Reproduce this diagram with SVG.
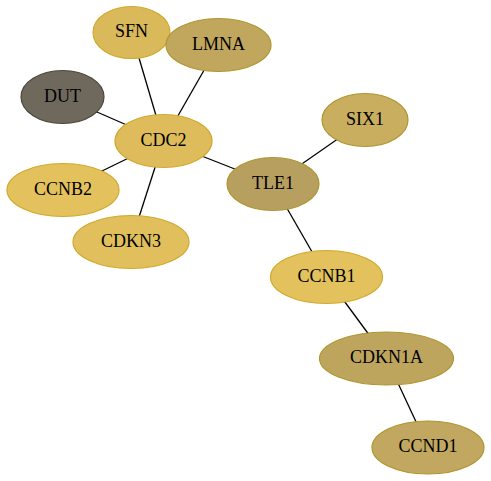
<svg xmlns="http://www.w3.org/2000/svg" width="491" height="481" viewBox="0 0 491 481">
<style>
.e{stroke:#000;stroke-width:1.3;fill:none}
.n ellipse{stroke-width:1.2}
.n text{font-family:"Liberation Serif","Times New Roman",serif;font-size:18px;text-anchor:middle;dominant-baseline:central;fill:#000}
.g{stroke:#d1a92d}
.b{stroke:#b0962f}
</style>
<rect width="491" height="481" fill="#fff"/>
<g id="edges">
<line class="e" x1="131.5" y1="32.5" x2="163.5" y2="141"/>
<line class="e" x1="218.5" y1="45" x2="163.5" y2="141"/>
<line class="e" x1="62.5" y1="97" x2="163.5" y2="141"/>
<line class="e" x1="63" y1="190" x2="163.5" y2="141"/>
<line class="e" x1="131" y1="242" x2="163.5" y2="141"/>
<line class="e" x1="163.5" y1="141" x2="273" y2="184"/>
<line class="e" x1="273" y1="184" x2="365" y2="120"/>
<line class="e" x1="273" y1="184" x2="326.5" y2="277"/>
<line class="e" x1="326.5" y1="277" x2="386.5" y2="358.5"/>
<line class="e" x1="386.5" y1="358.5" x2="428" y2="447.5"/>
</g>
<g id="SFN" class="n"><ellipse class="g" cx="131.5" cy="32.5" rx="38.5" ry="26" fill="#dab95a"/><text x="131.5" y="31">SFN</text></g>
<g id="LMNA" class="n"><ellipse class="b" cx="218.5" cy="45" rx="52.5" ry="26.5" fill="#c1a75e"/><text x="218.5" y="43.5">LMNA</text></g>
<g id="DUT" class="n"><ellipse cx="62.5" cy="97" rx="41.5" ry="26.5" fill="#6e695c" stroke="#4b4838"/><text x="62.5" y="95.5">DUT</text></g>
<g id="CDC2" class="n"><ellipse class="g" cx="163.5" cy="141" rx="48.5" ry="26.5" fill="#dfbc5b"/><text x="163.5" y="139.5">CDC2</text></g>
<g id="CCNB2" class="n"><ellipse class="g" cx="63" cy="190" rx="56" ry="26.5" fill="#e3c25d"/><text x="63" y="188.5">CCNB2</text></g>
<g id="CDKN3" class="n"><ellipse class="g" cx="131" cy="242" rx="58" ry="26.5" fill="#e0bf5c"/><text x="131" y="240.5">CDKN3</text></g>
<g id="TLE1" class="n"><ellipse class="b" cx="273" cy="184" rx="46" ry="26.5" fill="#b69f5f"/><text x="273" y="182.5">TLE1</text></g>
<g id="SIX1" class="n"><ellipse class="b" cx="365" cy="120" rx="43" ry="26.5" fill="#c8ae5e"/><text x="365" y="118.5">SIX1</text></g>
<g id="CCNB1" class="n"><ellipse class="g" cx="326.5" cy="277" rx="56" ry="26.5" fill="#e3c25d"/><text x="326.5" y="275.5">CCNB1</text></g>
<g id="CDKN1A" class="n"><ellipse class="b" cx="386.5" cy="358.5" rx="67" ry="26.5" fill="#bea55e"/><text x="386.5" y="357">CDKN1A</text></g>
<g id="CCND1" class="n"><ellipse class="b" cx="428" cy="447.5" rx="56" ry="26.5" fill="#c1a75f"/><text x="428" y="446">CCND1</text></g>
</svg>
